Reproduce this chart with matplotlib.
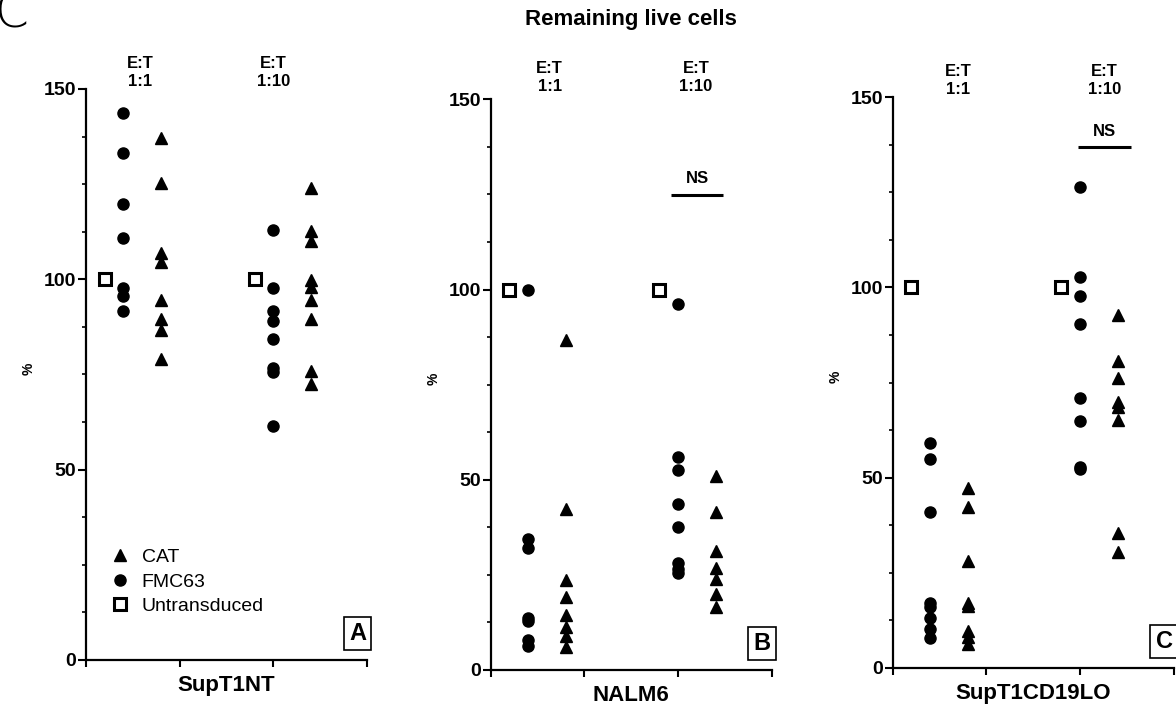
import matplotlib
matplotlib.use('Agg')
import matplotlib.pyplot as plt

plt.rcParams['font.family'] = ['Liberation Sans', 'DejaVu Sans']

# remaining live cells (%)
cell_lines = ['SupT1NT', 'NALM6', 'SupT1CD19LO']
panel_letters = ['A', 'B', 'C']
ratios = ['1:1', '1:10']

untransduced = [[100.0, 100.0], [100.0, 100.0], [100.0, 100.0]]

fmc63_11 = [
    [143.6, 133.3, 119.8, 110.9, 97.7, 95.6, 91.7],
    [100.0, 34.3, 32.0, 13.6, 12.9, 7.9, 6.3],
    [59.0, 54.8, 40.9, 16.9, 15.9, 13.2, 10.1, 7.8],
]
cat_11 = [
    [137.2, 125.4, 107.0, 104.6, 94.6, 89.5, 86.7, 79.2],
    [86.7, 42.2, 23.7, 19.3, 14.5, 11.2, 9.0, 6.0],
    [47.3, 42.2, 28.1, 17.1, 16.3, 9.7, 8.2, 6.2],
]
fmc63_110 = [
    [113.0, 97.7, 91.8, 89.0, 84.3, 76.6, 75.6, 61.4],
    [96.1, 56.1, 52.6, 43.6, 37.5, 28.2, 26.5, 25.4],
    [126.4, 102.8, 97.7, 90.5, 71.0, 64.8, 52.9, 52.3],
]
cat_110 = [
    [123.9, 112.7, 110.0, 99.8, 98.1, 94.7, 89.5, 76.0, 72.4],
    [51.0, 41.5, 31.2, 26.8, 23.8, 20.0, 16.6],
    [92.7, 80.7, 76.3, 70.0, 68.6, 65.1, 35.5, 30.5],
]
# NS bar height per panel (None = no bar)
ns_level = [None, 124.8, 136.8]

# x positions of the columns
pos_unt = [0.2, 1.8]
pos_fmc = [0.4, 2.0]
pos_cat = [0.8, 2.4]

# layout (pixels of a 1176x706 figure)
W, H = 1176, 706
axes_px = [(86, 89, 660), (490.7, 99.3, 670), (892.7, 97.3, 667.7)]
ax_w = 281
et_x = [(0.58, 2.0), (0.63, 2.19), (0.70, 2.26)]
et_y = [154.3, 155.7, 154.4]
ns_x = [None, (1.93, 2.48), (1.98, 2.54)]

fig = plt.figure(figsize=(W / 100, H / 100), dpi=100)

for i in range(3):
    left, top, bottom = axes_px[i]
    ax = fig.add_axes([left / W, (H - bottom) / H, ax_w / W, (bottom - top) / H])

    for g in range(2):
        fm = fmc63_11[i] if g == 0 else fmc63_110[i]
        ct = cat_11[i] if g == 0 else cat_110[i]
        ax.plot([pos_cat[g]] * len(ct), ct, '^', color='black', ms=8.5,
                linestyle='none', clip_on=False, label='CAT' if g == 0 else None)
        ax.plot([pos_fmc[g]] * len(fm), fm, 'o', color='black', ms=8,
                linestyle='none', clip_on=False, label='FMC63' if g == 0 else None)
        ax.plot([pos_unt[g]], [untransduced[i][g]], 's', mfc='white', mec='black',
                mew=2.2, ms=8, linestyle='none', clip_on=False,
                label='Untransduced' if g == 0 else None)
        ax.text(et_x[i][g], et_y[i], 'E:T\n' + ratios[g], ha='center', va='center',
                fontsize=12, fontweight='bold', linespacing=1.25)

    if ns_level[i] is not None:
        x0, x1 = ns_x[i]
        ax.plot([x0, x1], [ns_level[i], ns_level[i]], color='black', lw=2.2,
                clip_on=False, solid_capstyle='butt')
        ax.text((x0 + x1) / 2, ns_level[i] + 4.3, 'NS', ha='center', va='center',
                fontsize=12, fontweight='bold')

    ax.set_xlim(0, 3)
    ax.set_ylim(0, 150)
    ax.set_xticks([0, 1, 2, 3])
    ax.set_xticklabels([])
    ax.set_yticks([0, 50, 100, 150])
    ax.set_yticks([12.5, 25, 37.5, 62.5, 75, 87.5, 112.5, 125, 137.5], minor=True)
    ax.tick_params(axis='y', which='major', length=6, width=1.5, labelsize=14, pad=1)
    ax.tick_params(axis='y', which='minor', length=3, width=1.2)
    ax.tick_params(axis='x', length=5, width=1.5)
    for lab in ax.get_yticklabels():
        lab.set_fontweight('bold')
    ax.spines['top'].set_visible(False)
    ax.spines['right'].set_visible(False)
    ax.spines['left'].set_linewidth(1.6)
    ax.spines['bottom'].set_linewidth(1.6)

    ax.text(-57 / ax_w, 0.51, '%', transform=ax.transAxes, rotation=90,
            ha='center', va='center', fontsize=10, fontweight='bold')
    ax.text(0.5, -25.5 / (bottom - top), cell_lines[i], transform=ax.transAxes,
            ha='center', va='center', fontsize=16, fontweight='bold')
    ax.text(0.966, 0.046, panel_letters[i], transform=ax.transAxes, ha='center',
            va='center', fontsize=17, fontweight='bold', clip_on=False,
            bbox=dict(boxstyle='square,pad=0.22', fc='white', ec='black', lw=1.2))

    if i == 0:
        ax.legend(loc='center left', bbox_to_anchor=(0.087, 0.137), frameon=False,
                  borderpad=0, borderaxespad=0, handlelength=1, handletextpad=0.6,
                  labelspacing=0.35, fontsize=14, numpoints=1)

fig.text(631 / W, 1 - 20 / H, 'Remaining live cells', ha='center', va='center',
         fontsize=16, fontweight='bold')
# big panel letter, partly cut off at the top-left corner as in the source
fig.text(-5 / W, 1 - 27 / H, 'C', ha='left', va='baseline', fontsize=35,
         family='DejaVu Sans', fontweight='light')

fig.savefig('out.png', dpi=100)
